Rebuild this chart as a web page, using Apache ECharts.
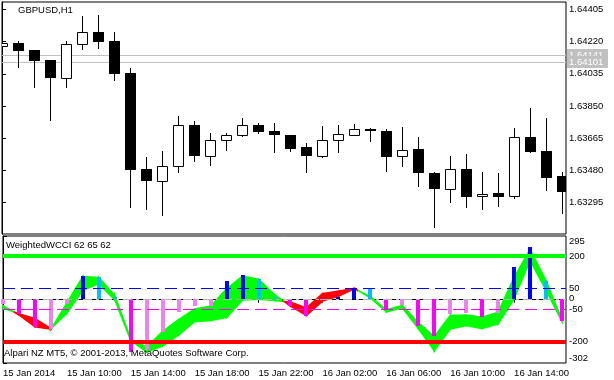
<!DOCTYPE html>
<html>
<head>
<meta charset="utf-8">
<script src="https://cdn.jsdelivr.net/npm/echarts@6/dist/echarts.min.js"></script>
<style>
html,body{margin:0;padding:0;background:#fff;}
#chart{width:614px;height:380px;}
</style>
</head>
<body>
<div id="chart"></div>
<script>
// ---- Data (GBPUSD H1, 15 Jan 2014 06:00 .. 16 Jan 2014 17:00) ----
const barTimes = ['15 Jan 06:00','15 Jan 07:00','15 Jan 08:00','15 Jan 09:00','15 Jan 10:00','15 Jan 11:00','15 Jan 12:00','15 Jan 13:00','15 Jan 14:00','15 Jan 15:00','15 Jan 16:00','15 Jan 17:00','15 Jan 18:00','15 Jan 19:00','15 Jan 20:00','15 Jan 21:00','15 Jan 22:00','15 Jan 23:00','16 Jan 00:00','16 Jan 01:00','16 Jan 02:00','16 Jan 03:00','16 Jan 04:00','16 Jan 05:00','16 Jan 06:00','16 Jan 07:00','16 Jan 08:00','16 Jan 09:00','16 Jan 10:00','16 Jan 11:00','16 Jan 12:00','16 Jan 13:00','16 Jan 14:00','16 Jan 15:00','16 Jan 16:00','16 Jan 17:00'];
const opens  = [1.64196,1.64213,1.64171,1.64114,1.64012,1.64204,1.64273,1.64223,1.64039,1.63489,1.63421,1.63504,1.63741,1.63561,1.63653,1.63682,1.63741,1.63707,1.63684,1.63615,1.63561,1.63653,1.63682,1.63716,1.63707,1.63561,1.63603,1.63467,1.63375,1.63489,1.63332,1.63351,1.63332,1.63672,1.63592,1.63450];
const closes = [1.64213,1.64167,1.64110,1.64012,1.64204,1.64273,1.64219,1.64035,1.63483,1.63421,1.63504,1.63739,1.63565,1.63653,1.63682,1.63741,1.63699,1.63682,1.63605,1.63565,1.63653,1.63688,1.63718,1.63705,1.63559,1.63596,1.63464,1.63375,1.63487,1.63330,1.63343,1.63330,1.63672,1.63586,1.63439,1.63358];
const highs  = [1.64213,1.64223,1.64171,1.64114,1.64223,1.64368,1.64372,1.64275,1.64068,1.63557,1.63592,1.63793,1.63764,1.63695,1.63695,1.63783,1.63752,1.63752,1.63684,1.63638,1.63735,1.63741,1.63747,1.63724,1.63718,1.63730,1.63670,1.63471,1.63565,1.63576,1.63473,1.63467,1.63724,1.63837,1.63779,1.63473];
const lows   = [1.64196,1.64070,1.63955,1.63766,1.63955,1.64171,1.64177,1.63995,1.63266,1.63255,1.63221,1.63467,1.63530,1.63507,1.63594,1.63670,1.63688,1.63582,1.63588,1.63467,1.63553,1.63582,1.63682,1.63643,1.63473,1.63502,1.63387,1.63148,1.63295,1.63266,1.63255,1.63272,1.63315,1.63582,1.63364,1.63229];

const bidAsk = [1.64141, 1.64101];
const priceTicks = [1.63295,1.63480,1.63665,1.63850,1.64035,1.64220,1.64405];

// WeightedWCCI histogram and its state (U strong up, u weak up, D strong down, d weak down)
const hist = [-25,-70,-134,-142,-27,107,101,6,-248,-240,-158,-63,-35,-32,82,110,91,6,-32,-82,-8,8,52,47,-55,-28,-126,-177,-74,-68,-87,-65,148,243,82,-106];
const histKind = ['d','D','D','d','d','U','u','u','D','d','d','d','d','d','U','U','u','u','D','D','d','U','U','u','D','d','D','D','d','d','D','d','U','U','u','D'];
// two WCCI lines forming the filled cloud
const wcciFast = [-33,-76,-132,-143,-20,105,100,15,-190,-228,-153,-98,-48,-35,47,107,91,20,-35,-79,-11,12,47,10,-52,-32,-112,-178,-79,-76,-87,-63,100,232,85,-98];
const wcciSlow = [-45,-70,-93,-140,-68,40,70,-5,-196,-250,-222,-170,-108,-103,-88,-6,-3,-8,-16,-43,24,36,49,4,-62,-42,-140,-244,-142,-126,-140,-118,0,180,40,-108];
const levels = [200, -200, 50, -50, 0];
const indTicks = [-302,-200,-50,0,50,200,295];

const timeTickIdx = [0,4,8,12,16,20,24,28,32];
const timeTickLabels = ['15 Jan 2014','15 Jan 10:00','15 Jan 14:00','15 Jan 18:00','15 Jan 22:00','16 Jan 02:00','16 Jan 06:00','16 Jan 10:00','16 Jan 14:00'];

// ---- Chart ----
const FONT = 'Liberation Sans';
const FS = 9.5;
const kindColor = {U:'#0000FF', u:'#00BFFF', D:'#FF00FF', d:'#EE82EE'};
const GREEN = '#00FF00', RED = '#FF0000';
const n = opens.length;

const chart = echarts.init(document.getElementById('chart'), null, {renderer:'canvas'});

function renderCandle(params, api) {
  const i = api.value(0);
  const o = opens[i], c = closes[i], h = highs[i], l = lows[i];
  const ph = api.coord([i, h]), pl = api.coord([i, l]);
  const po = api.coord([i, o]), pc = api.coord([i, c]);
  const cx = Math.round(ph[0]);
  const top = Math.round(Math.min(po[1], pc[1]));
  const bot = Math.round(Math.max(po[1], pc[1]));
  const children = [{
    type:'line',
    shape:{x1:cx+0.5, y1:Math.round(ph[1]), x2:cx+0.5, y2:Math.round(pl[1])},
    style:{stroke:'#000', lineWidth:1}
  }];
  if (c >= o) {
    children.push({type:'rect', shape:{x:cx-5+0.5, y:top+0.5, width:10, height:Math.max(bot-top,1)},
      style:{fill:'#fff', stroke:'#000', lineWidth:1}});
  } else {
    children.push({type:'rect', shape:{x:cx-5, y:top, width:11, height:Math.max(bot-top,1)},
      style:{fill:'#000'}});
  }
  return {type:'group', children};
}

function renderBidAsk(params, api) {
  const v = api.value(1);
  const cs = params.coordSys;
  const p = api.coord([0, v]);
  const y = Math.round(p[1]) + 0.5;
  const xr = cs.x + cs.width;
  return {type:'group', children:[
    {type:'line', shape:{x1:cs.x, y1:y, x2:xr, y2:y}, style:{stroke:'#C0C0C0', lineWidth:1}},
    {type:'rect', shape:{x:xr+1, y:Math.round(p[1])-6, width:41, height:12}, style:{fill:'#C0C0C0'}},
    {type:'text', x:xr+3, y:y, style:{text:v.toFixed(5), fill:'#fff', fontSize:FS, fontFamily:FONT,
      verticalAlign:'middle', align:'left'}}
  ]};
}

function renderHist(params, api) {
  const i = api.value(0), v = api.value(1);
  const p0 = api.coord([i, 0]), p1 = api.coord([i, v]);
  const cx = Math.round(p0[0]);
  const y0 = Math.round(p0[1]), y1 = Math.round(p1[1]);
  return {type:'rect', shape:{x:cx-2, y:Math.min(y0,y1), width:4, height:Math.max(Math.abs(y1-y0),1)},
    style:{fill:kindColor[histKind[i]]}};
}

function renderCloud(params, api) {
  const i = api.value(0);
  if (i >= n - 1) return null;
  const a1 = wcciFast[i], b1 = wcciSlow[i], a2 = wcciFast[i+1], b2 = wcciSlow[i+1];
  const d1 = a1 - b1, d2 = a2 - b2;
  const col = d => d >= 0 ? GREEN : RED;
  const polys = [];
  if (d1 * d2 < 0) {
    const t = d1 / (d1 - d2);
    const xc = i + t, yc = a1 + t * (a2 - a1);
    polys.push({pts:[[i,a1],[xc,yc],[i,b1]], color:col(d1)});
    polys.push({pts:[[xc,yc],[i+1,a2],[i+1,b2]], color:col(d2)});
  } else {
    polys.push({pts:[[i,a1],[i+1,a2],[i+1,b2],[i,b1]], color:col(d1 + d2)});
  }
  return {type:'group', children: polys.map(p => ({
    type:'polygon',
    shape:{points:p.pts.map(q => api.coord(q))},
    style:{fill:p.color, stroke:p.color, lineWidth:1.5}
  }))};
}

const levelStyles = {
  '200': {color:GREEN, width:4, type:'solid'},
  '-200': {color:RED, width:4, type:'solid'},
  '50': {color:'#0000FF', width:1, type:[12,6]},
  '-50': {color:'#FF00FF', width:1, type:[12,6]},
  '0': {color:'#B4B4B4', width:1, type:[9,4,3,4]}
};

const option = {
  animation:false,
  backgroundColor:'#fff',
  textStyle:{fontFamily:FONT},
  grid:[
    {left:2, right:48, top:2, height:232, show:true, borderColor:'#000', borderWidth:1, backgroundColor:'#fff'},
    {left:2, right:48, top:236, height:127, show:true, borderColor:'#000', borderWidth:1, backgroundColor:'#fff'}
  ],
  xAxis:[
    {gridIndex:0, type:'value', min:0, max:35.25, show:false},
    {gridIndex:1, type:'value', min:0, max:35.25,
      axisLine:{show:true, lineStyle:{color:'#000'}},
      axisTick:{show:true, length:4, customValues:timeTickIdx, lineStyle:{color:'#000'}},
      axisLabel:{customValues:timeTickIdx, formatter:v => timeTickLabels[timeTickIdx.indexOf(v)] || '',
        align:'left', margin:5, color:'#000', fontSize:FS, fontFamily:FONT},
      splitLine:{show:false}}
  ],
  yAxis:[
    {gridIndex:0, type:'value', position:'right', min:1.63115, max:1.64447,
      axisLine:{show:true, lineStyle:{color:'#000'}},
      axisTick:{show:true, length:4, customValues:priceTicks, lineStyle:{color:'#000'}},
      axisLabel:{customValues:priceTicks, formatter:v => v.toFixed(5), color:'#000', fontSize:FS, margin:3, fontFamily:FONT},
      splitLine:{show:false}},
    {gridIndex:1, type:'value', position:'right', min:-302, max:295,
      axisLine:{show:true, lineStyle:{color:'#000'}},
      axisTick:{show:true, length:4, customValues:indTicks, lineStyle:{color:'#000'}},
      axisLabel:{customValues:indTicks, formatter:v => String(v), color:'#000', fontSize:FS, margin:3, fontFamily:FONT,
        verticalAlignMaxLabel:'top', verticalAlignMinLabel:'bottom'},
      splitLine:{show:false}}
  ],
  series:[
    {
      type:'custom', name:'BidAsk', xAxisIndex:0, yAxisIndex:0, clip:false, z:1,
      data: bidAsk.map(v => [0, v]),
      encode:{x:0, y:1},
      renderItem: renderBidAsk
    },
    {
      type:'custom', name:'GBPUSD', xAxisIndex:0, yAxisIndex:0, clip:true, z:3,
      data: opens.map((o, i) => [i, o, closes[i], lows[i], highs[i]]),
      encode:{x:0, y:[1,2,3,4]},
      renderItem: renderCandle
    },
    {
      type:'custom', name:'cloud', xAxisIndex:1, yAxisIndex:1, z:2,
      data: wcciFast.map((v, i) => [i, v, wcciSlow[i]]),
      encode:{x:0, y:[1,2]},
      renderItem: renderCloud
    },
    {
      type:'custom', name:'WeightedWCCI', xAxisIndex:1, yAxisIndex:1, z:3,
      data: hist.map((v, i) => [i, v]),
      encode:{x:0, y:1},
      renderItem: renderHist,
      markLine:{
        silent:true, symbol:'none', z:6, animation:false,
        label:{show:false},
        data: levels.map(v => ({yAxis:v, lineStyle:levelStyles[String(v)]}))
      }
    }
  ],
  graphic:[
    {type:'text', left:18, top:5, z:100, style:{text:'GBPUSD,H1', fill:'#000', fontSize:FS, fontFamily:FONT}},
    {type:'text', left:6, top:240, z:100, style:{text:'WeightedWCCI 62 65 62', fill:'#000', fontSize:FS, fontFamily:FONT}},
    {type:'text', left:4, top:348, z:100, style:{text:'Alpari NZ MT5, \u00A9 2001-2013, MetaQuotes Software Corp.', fill:'#000', fontSize:FS, fontFamily:FONT}}
  ]
};
chart.setOption(option);
</script>
</body>
</html>
